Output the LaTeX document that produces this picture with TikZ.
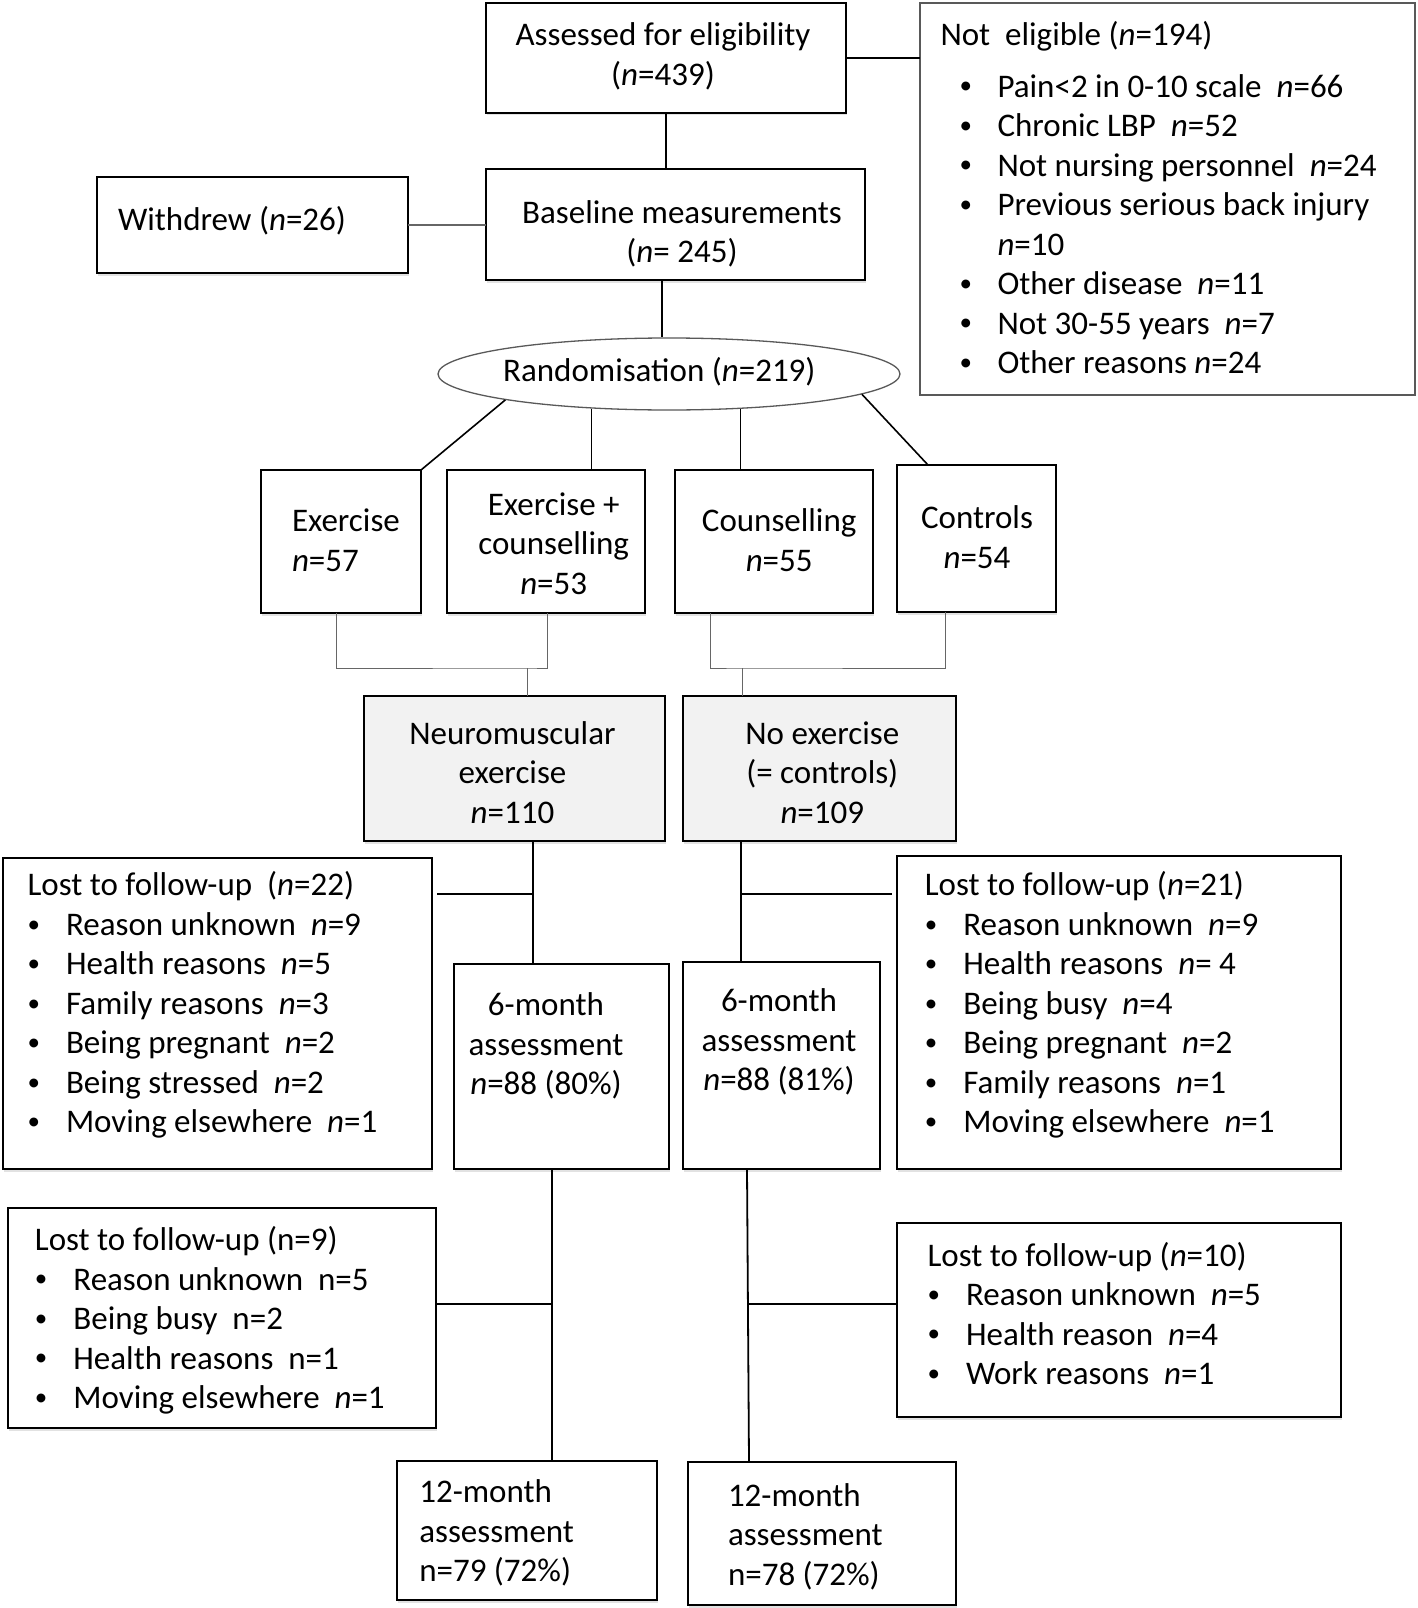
\documentclass[tikz,border=0pt]{standalone}
\usepackage{fontspec}
\setmainfont{Carlito}
\usetikzlibrary{shapes.geometric,shadows}
\newcommand\nn{\textit{n}}
\newcommand\smb{\raisebox{3.2pt}{\fontsize{25}{25}\selectfont•}}
\newcommand\bA{\makebox[57pt][l]{\hspace*{19pt}\smb}}
\newcommand\bB{\makebox[38.5pt][l]{\hspace*{0pt}\smb}}
\begin{document}
\begin{tikzpicture}[x=1pt,y=-1pt,
  box/.style={draw=black, line width=2pt, rectangle, inner sep=0pt, outer sep=0pt, fill=white,
    drop shadow={shadow xshift=1pt, shadow yshift=-2.5pt, fill=black!22}},
  gbox/.style={box, fill=black!5},
  lbox/.style={draw=black!65, line width=1.5pt, rectangle, inner sep=0pt, outer sep=0pt},
  txt/.style={inner sep=0pt, outer sep=0pt, font=\fontsize{33}{39.5}\selectfont},
  conn/.style={line width=1.8pt, draw=black},
  thinconn/.style={line width=1pt, draw=black!60}]
\useasboundingbox[fill=white] (0,0) rectangle (1418,1608);

% ---------- boxes ----------
\node[box, minimum width=360pt, minimum height=110pt] (assess) at (666,58) {};
\node[lbox, minimum width=495pt, minimum height=392pt] (notelig) at (1167.5,199) {};
\node[box, minimum width=311pt, minimum height=96pt] (withdrew) at (252.5,225) {};
\node[box, minimum width=379pt, minimum height=111pt] (baseline) at (675.5,224.5) {};
\node[ellipse, draw=black!65, line width=1.3pt, minimum width=462pt, minimum height=72pt, inner sep=0pt] (rand) at (669,374) {};
\node[box, minimum width=160pt, minimum height=143pt] (ex) at (341,541.5) {};
\node[box, minimum width=198pt, minimum height=143pt] (exc) at (546,541.5) {};
\node[box, minimum width=198pt, minimum height=143pt] (couns) at (774,541.5) {};
\node[box, minimum width=159pt, minimum height=147pt] (ctrl) at (976.5,538.5) {};
\node[gbox, minimum width=301pt, minimum height=145pt] (neuro) at (514.5,768.5) {};
\node[gbox, minimum width=273pt, minimum height=145pt] (noex) at (819.5,768.5) {};
\node[box, minimum width=429pt, minimum height=311pt] (lost22) at (217.5,1013.5) {};
\node[box, minimum width=215pt, minimum height=205pt] (six1) at (561.5,1066.5) {};
\node[box, minimum width=197pt, minimum height=207pt] (six2) at (781.5,1065.5) {};
\node[box, minimum width=444pt, minimum height=313pt] (lost21) at (1119,1012.5) {};
\node[box, minimum width=428pt, minimum height=220pt] (lost9) at (222,1318) {};
\node[box, minimum width=444pt, minimum height=194pt] (lost10) at (1119,1320) {};
\node[box, minimum width=260pt, minimum height=139pt] (twelve1) at (527,1530.5) {};
\node[box, minimum width=268pt, minimum height=143pt] (twelve2) at (822,1533.5) {};

% ---------- texts ----------
\node[txt, anchor=base] (assess-t) at (663,45.8) {\begin{tabular}[t]{@{}c@{}}Assessed for eligibility\\(\nn=439)\end{tabular}};
\node[txt, anchor=base west] (notelig-t) at (940.5,45.8) {\begin{tabular}[t]{@{}l@{}}
Not\ \ eligible (\nn=194)\\[11.8pt]
\bA Pain<2 in 0-10 scale\ \ \nn=66\\
\bA Chronic LBP\ \ \nn=52\\
\bA Not nursing personnel\ \ \nn=24\\
\bA Previous serious back injury\\
\hspace*{57pt}\nn=10\\
\bA Other disease\ \ \nn=11\\
\bA Not 30-55 years\ \ \nn=7\\
\bA Other reasons \nn=24
\end{tabular}};
\node[txt, anchor=base west] (withdrew-t) at (118,230.4) {Withdrew (\nn=26)};
\node[txt, anchor=base] (baseline-t) at (682,223.2) {\begin{tabular}[t]{@{}c@{}}Baseline measurements\\(\nn= 245)\end{tabular}};
\node[txt, anchor=base] (rand-t) at (659.3,381) {Randomisation (\nn=219)};
\node[txt, anchor=base west] (ex-t) at (292,531.8) {\begin{tabular}[t]{@{}l@{}}Exercise\\\nn=57\end{tabular}};
\node[txt, anchor=base] (exc-t) at (553.7,515.4) {\begin{tabular}[t]{@{}c@{}}Exercise +\\counselling\\\nn=53\end{tabular}};
\node[txt, anchor=base] (couns-t) at (779.2,531.8) {\begin{tabular}[t]{@{}c@{}}Counselling\\\nn=55\end{tabular}};
\node[txt, anchor=base] (ctrl-t) at (977,528.8) {\begin{tabular}[t]{@{}c@{}}Controls\\\nn=54\end{tabular}};
\node[txt, anchor=base] (neuro-t) at (512.5,744) {\begin{tabular}[t]{@{}c@{}}Neuromuscular\\exercise\\\nn=110\end{tabular}};
\node[txt, anchor=base] (noex-t) at (822.3,744) {\begin{tabular}[t]{@{}c@{}}No exercise\\(= controls)\\\nn=109\end{tabular}};
\node[txt, anchor=base west] (lost22-t) at (27.5,895.8) {\begin{tabular}[t]{@{}l@{}}
Lost to follow-up\ \ (\nn=22)\\
\bB Reason unknown\ \ \nn=9\\
\bB Health reasons\ \ \nn=5\\
\bB Family reasons\ \ \nn=3\\
\bB Being pregnant\ \ \nn=2\\
\bB Being stressed\ \ \nn=2\\
\bB Moving elsewhere\ \ \nn=1
\end{tabular}};
\node[txt, anchor=base] (six1-t) at (546,1015.8) {\begin{tabular}[t]{@{}c@{}}6-month\\assessment\\\nn=88 (80\%)\end{tabular}};
\node[txt, anchor=base] (six2-t) at (779,1011.7) {\begin{tabular}[t]{@{}c@{}}6-month\\assessment\\\nn=88 (81\%)\end{tabular}};
\node[txt, anchor=base west] (lost21-t) at (924.8,895.8) {\begin{tabular}[t]{@{}l@{}}
Lost to follow-up (\nn=21)\\
\bB Reason unknown\ \ \nn=9\\
\bB Health reasons\ \ \nn= 4\\
\bB Being busy\ \ \nn=4\\
\bB Being pregnant\ \ \nn=2\\
\bB Family reasons\ \ \nn=1\\
\bB Moving elsewhere\ \ \nn=1
\end{tabular}};
\node[txt, anchor=base west] (lost9-t) at (34.9,1250.5) {\begin{tabular}[t]{@{}l@{}}
Lost to follow-up (n=9)\\
\bB Reason unknown\ \ n=5\\
\bB Being busy\ \ n=2\\
\bB Health reasons\ \ n=1\\
\bB Moving elsewhere\ \ \nn=1
\end{tabular}};
\node[txt, anchor=base west] (lost10-t) at (927.5,1266) {\begin{tabular}[t]{@{}l@{}}
Lost to follow-up (\nn=10)\\
\bB Reason unknown\ \ \nn=5\\
\bB Health reason\ \ \nn=4\\
\bB Work reasons\ \ \nn=1
\end{tabular}};
\node[txt, anchor=base west] (twelve1-t) at (419.3,1502.8) {\begin{tabular}[t]{@{}l@{}}12-month\\assessment\\n=79 (72\%)\end{tabular}};
\node[txt, anchor=base west] (twelve2-t) at (728,1506) {\begin{tabular}[t]{@{}l@{}}12-month\\assessment\\n=78 (72\%)\end{tabular}};

% ---------- connectors ----------
\draw[conn] (assess.east) -- (assess.east -| notelig.west);
\draw[conn] (assess.south) -- (assess.south |- baseline.north);
\draw[conn, draw=black!60] (withdrew.east) -- (withdrew.east -| baseline.west);
\draw[conn] ([xshift=-13.5pt]baseline.south) -- ([xshift=-7pt]rand.north);
\draw[conn, line width=1.6pt] (rand.189.4) -- (ex.north east);
\draw[conn, line width=1.6pt] (rand.204) -- (rand.204 |- exc.north);
\draw[conn, line width=1.6pt] (rand.334) -- (rand.334 |- couns.north);
\draw[conn, line width=1.6pt] (rand.354.1) -- ([xshift=31pt]ctrl.north west);

\coordinate (jl) at (527,668);
\coordinate (jr) at (742,668);
\draw[thinconn] ([xshift=-5pt]ex.south) |- (jl) -| ([xshift=1.5pt]exc.south);
\draw[thinconn] (jl) -- (jl |- neuro.north);
\draw[thinconn] ([xshift=-63.5pt]couns.south) |- (jr) -| ([xshift=-31.5pt]ctrl.south);
\draw[thinconn] (jr) -- (jr |- noex.north);

\coordinate (h1) at (533,894);
\coordinate (h2) at (741,894);
\draw[conn] ([xshift=18.5pt]neuro.south) -- ([xshift=-28.5pt]six1.north);
\draw[conn] ([xshift=5pt]lost22.east |- h1) -- (h1);
\draw[conn] ([xshift=-78.5pt]noex.south) -- ([xshift=-40.5pt]six2.north);
\draw[conn] (h2) -- ([xshift=-5pt]h2 -| lost21.west);

\coordinate (h3) at (552,1304);
\coordinate (h4) at (748.5,1304);
\draw[conn] ([xshift=-9.5pt]six1.south) -- ([xshift=25pt]twelve1.north);
\draw[conn] (lost9.east |- h3) -- (h3);
\draw[conn] ([xshift=-34.5pt]six2.south) -- ([xshift=-73pt]twelve2.north);
\draw[conn] (h4) -- (h4 -| lost10.west);
\end{tikzpicture}
\end{document}
